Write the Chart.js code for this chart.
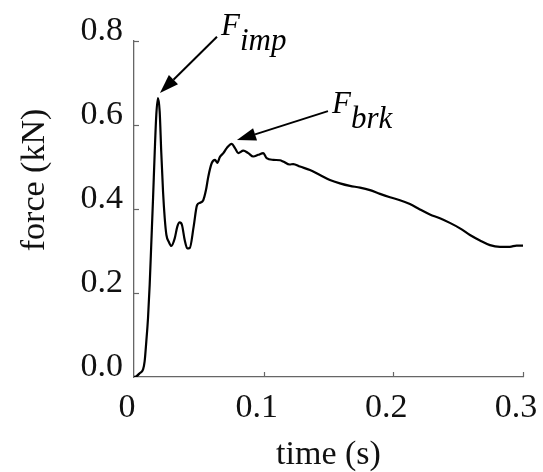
<!DOCTYPE html>
<html>
<head>
<meta charset="utf-8">
<script src="https://cdn.jsdelivr.net/npm/chart.js@4"></script>
<style>
  html, body { margin: 0; padding: 0; background: #fff; }
  canvas { display: block; }
</style>
</head>
<body>
<canvas id="c" width="543" height="472"></canvas>
<script>
// ---- data ----
const time = [0.000, 0.002, 0.0044, 0.007, 0.0082, 0.0095, 0.0108, 0.0121, 0.0133, 0.0147,
  0.016, 0.0172, 0.0185, 0.0198, 0.021, 0.0224, 0.0237, 0.025, 0.0268, 0.0288,
  0.0314, 0.0334, 0.0352, 0.037, 0.0391, 0.0411, 0.043, 0.046, 0.0486, 0.051,
  0.0534, 0.0555, 0.0573, 0.0599, 0.0625, 0.0642, 0.0663, 0.0689, 0.0715, 0.0753,
  0.0779, 0.0804, 0.0843, 0.0881, 0.092, 0.0958, 0.0997, 0.1023, 0.1074, 0.1126,
  0.1151, 0.120, 0.1228, 0.128, 0.1357, 0.1434, 0.1511, 0.1588, 0.1665, 0.1743,
  0.182, 0.1897, 0.1974, 0.2051, 0.2128, 0.2205, 0.2282, 0.2359, 0.2436, 0.2514,
  0.2591, 0.2668, 0.2745, 0.2822, 0.2899, 0.295, 0.300];
const force = [0.000, 0.002, 0.009, 0.018, 0.037, 0.085, 0.140, 0.220, 0.315, 0.426,
  0.537, 0.624, 0.664, 0.632, 0.537, 0.441, 0.378, 0.338, 0.322, 0.312,
  0.330, 0.358, 0.368, 0.362, 0.326, 0.306, 0.307, 0.358, 0.409, 0.415,
  0.421, 0.445, 0.477, 0.509, 0.517, 0.510, 0.524, 0.533, 0.545, 0.555,
  0.545, 0.533, 0.539, 0.533, 0.525, 0.529, 0.533, 0.521, 0.517, 0.516,
  0.513, 0.506, 0.507, 0.501, 0.493, 0.481, 0.469, 0.461, 0.455, 0.451,
  0.445, 0.436, 0.428, 0.421, 0.412, 0.399, 0.387, 0.378, 0.367, 0.354,
  0.338, 0.325, 0.314, 0.310, 0.310, 0.313, 0.313];
const xTickLabels = ['0', '0.1', '0.2', '0.3'];
const yTickLabels = ['0.0', '0.2', '0.4', '0.6', '0.8'];
const xTitle = 'time (s)';
const yTitle = 'force (kN)';
// annotations (data units)
const annotNames = ['imp', 'brk'];
const annotTip = [[0.0200, 0.676], [0.0794, 0.564]];
const annotTail = [[0.064, 0.810], [0.1496, 0.633]];
const annotText = [[0.0671, 0.814], [0.1527, 0.629]];

const SERIF = '"Liberation Serif", "Times New Roman", serif';

const annotPlugin = {
  id: 'annot',
  afterDraw(chart) {
    const ctx = chart.ctx;
    const xs = chart.scales.x, ys = chart.scales.y;
    const area = chart.chartArea;
    ctx.save();
    // inward tick marks
    ctx.strokeStyle = '#666';
    ctx.lineWidth = 1.2;
    ys.ticks.forEach((t) => {
      if (t.value === 0) return;
      const py = Math.round(ys.getPixelForValue(t.value)) + 0.5;
      ctx.beginPath(); ctx.moveTo(area.left, py); ctx.lineTo(area.left + 5, py); ctx.stroke();
    });
    xs.ticks.forEach((t) => {
      if (t.value === 0) return;
      const px = Math.round(xs.getPixelForValue(t.value)) + 0.5;
      ctx.beginPath(); ctx.moveTo(px, area.bottom); ctx.lineTo(px, area.bottom - 5); ctx.stroke();
    });
    // y title
    ctx.fillStyle = '#111';
    ctx.font = '34px ' + SERIF;
    ctx.textAlign = 'center';
    ctx.textBaseline = 'alphabetic';
    ctx.save();
    ctx.translate(43.5, 180);
    ctx.rotate(-Math.PI / 2);
    ctx.fillText(yTitle, 0, 0);
    ctx.restore();
    // arrows and labels
    annotNames.forEach((name, i) => {
      const tx = xs.getPixelForValue(annotTip[i][0]), ty = ys.getPixelForValue(annotTip[i][1]);
      const sx = xs.getPixelForValue(annotTail[i][0]), sy = ys.getPixelForValue(annotTail[i][1]);
      const ang = Math.atan2(ty - sy, tx - sx);
      const hl = 19, hw = 6.5;
      const bx = tx - hl * Math.cos(ang), by = ty - hl * Math.sin(ang);
      ctx.strokeStyle = '#000';
      ctx.lineWidth = 2;
      ctx.beginPath(); ctx.moveTo(sx, sy); ctx.lineTo(bx, by); ctx.stroke();
      ctx.fillStyle = '#000';
      ctx.beginPath();
      ctx.moveTo(tx, ty);
      ctx.lineTo(bx + hw * Math.sin(ang), by - hw * Math.cos(ang));
      ctx.lineTo(bx - hw * Math.sin(ang), by + hw * Math.cos(ang));
      ctx.closePath(); ctx.fill();
      const lx = xs.getPixelForValue(annotText[i][0]), ly = ys.getPixelForValue(annotText[i][1]);
      ctx.font = 'italic 31px ' + SERIF;
      ctx.textAlign = 'left';
      ctx.textBaseline = 'alphabetic';
      ctx.fillText('F', lx, ly);
      const w = ctx.measureText('F').width;
      ctx.fillText(name, lx + w, ly + 15);
    });
    ctx.restore();
  }
};

new Chart(document.getElementById('c'), {
  type: 'line',
  data: {
    datasets: [{
      data: time.map((t, i) => ({ x: t, y: force[i] })),
      borderColor: '#000',
      borderWidth: 2.2,
      pointRadius: 0,
      fill: false,
      cubicInterpolationMode: 'monotone'
    }]
  },
  options: {
    responsive: false,
    animation: false,
    layout: { autoPadding: false, padding: { left: 0, right: 20, top: 41, bottom: 0 } },
    plugins: { legend: { display: false }, tooltip: { enabled: false } },
    scales: {
      x: {
        type: 'linear', min: 0, max: 0.3,
        afterFit: (s) => { s.height = 95; s.paddingLeft = 0; s.paddingRight = 0; },
        ticks: {
          stepSize: 0.1,
          callback: (v, i) => xTickLabels[i],
          color: '#111', font: { family: SERIF, size: 34 },
          padding: 11, labelOffset: -7, maxRotation: 0, autoSkip: false
        },
        grid: { display: false, drawTicks: false },
        border: { display: true, color: '#666', width: 1.3 },
        title: { display: true, text: xTitle, color: '#111',
          font: { family: SERIF, size: 34, lineHeight: 1 }, padding: { top: 0, bottom: 0 } }
      },
      y: {
        type: 'linear', min: 0, max: 0.8,
        afterFit: (s) => { s.width = 134; s.paddingTop = 0; s.paddingBottom = 0; },
        ticks: {
          stepSize: 0.2,
          callback: (v, i) => yTickLabels[i],
          color: '#111', font: { family: SERIF, size: 34 },
          padding: 11, labelOffset: -10
        },
        grid: { display: false, drawTicks: false },
        border: { display: true, color: '#666', width: 1.3 }
      }
    }
  },
  plugins: [annotPlugin]
});
</script>
</body>
</html>
